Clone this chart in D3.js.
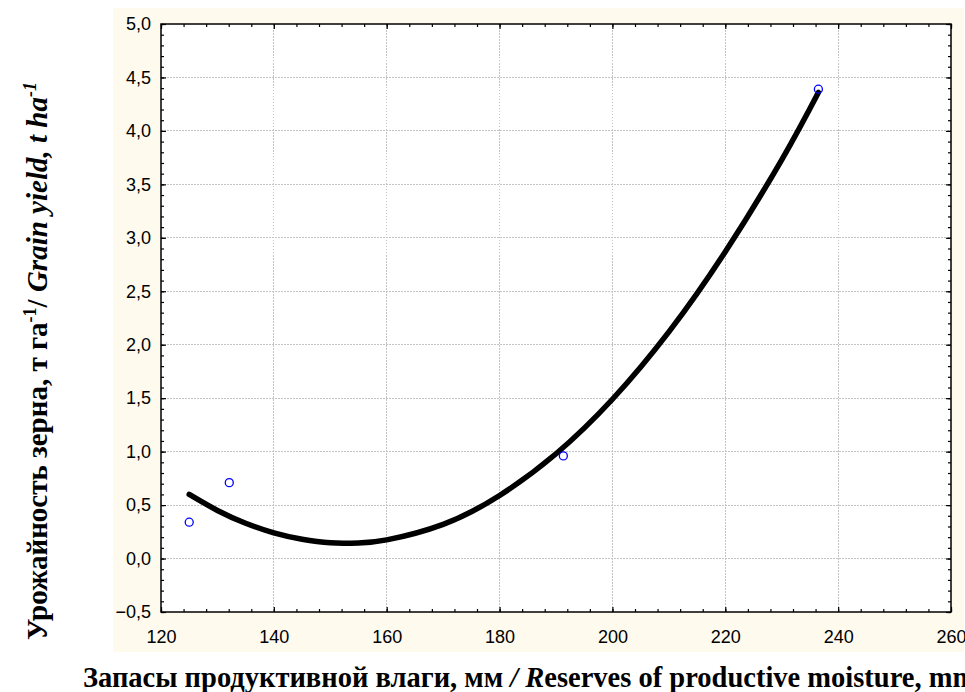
<!DOCTYPE html>
<html>
<head>
<meta charset="utf-8">
<script src="https://cdn.jsdelivr.net/npm/d3@7"></script>
<style>
  html, body { margin: 0; padding: 0; background: #ffffff; }
  svg { display: block; }
</style>
</head>
<body>
<svg id="chart" width="965" height="692"></svg>
<script>
// ---- data ----
const moisture = [125.0, 132.1, 191.3, 236.5];
const yieldObs = [0.34, 0.71, 0.96, 4.39];
// fitted curve
const fitX = [125, 130, 135, 140, 145, 150, 155, 160, 170, 180, 190, 200, 210, 220, 230, 236.5];
const fitY = [0.60, 0.45, 0.33, 0.24, 0.18, 0.147, 0.146, 0.175, 0.32, 0.59, 0.98, 1.49, 2.12, 2.87, 3.73, 4.36];
const xTicks = [120, 140, 160, 180, 200, 220, 240, 260];
const yTicks = [-0.5, 0.0, 0.5, 1.0, 1.5, 2.0, 2.5, 3.0, 3.5, 4.0, 4.5, 5.0];
const xMinor = d3.range(120, 260.01, 4);
const yMinor = d3.range(-5, 50.01, 1).map(v => v / 10);

const svg = d3.select("#chart");
const L = 161, T = 24, R = 951, B = 612;

svg.append("rect").attr("x", 113).attr("y", 8).attr("width", 851).attr("height", 644)
  .attr("fill", "#fefaee");
svg.append("rect").attr("x", L).attr("y", T).attr("width", R - L).attr("height", B - T)
  .attr("fill", "#ffffff");

const x = d3.scaleLinear().domain([120, 260]).range([L, R]);
const y = d3.scaleLinear().domain([-0.5, 5.0]).range([B, T]);
const fmt = v => d3.format(".1f")(v).replace(".", ",");

// grid
const grid = svg.append("g").attr("stroke", "#c4c4c4").attr("stroke-width", 1)
  .attr("stroke-dasharray", "1.5,1.5").attr("shape-rendering", "crispEdges");
grid.selectAll(".gx").data(xTicks.slice(1, -1)).enter().append("line")
  .attr("x1", d => x(d)).attr("x2", d => x(d)).attr("y1", T).attr("y2", B);
grid.selectAll(".gy").data(yTicks.slice(1, -1)).enter().append("line")
  .attr("x1", L).attr("x2", R).attr("y1", d => y(d)).attr("y2", d => y(d));

// axes
function styleAxis(g) {
  g.select(".domain").remove();
  g.selectAll("line").attr("stroke", "#000").attr("stroke-width", 1.2);
  g.selectAll("text").attr("font-family", "'Liberation Sans', Arial, sans-serif")
    .attr("font-size", 18).attr("fill", "#000");
}
svg.append("g").attr("transform", `translate(0,${B})`)
  .call(d3.axisBottom(x).tickValues(xTicks).tickSize(-5).tickPadding(18).tickFormat(d3.format("d")))
  .call(styleAxis);
svg.append("g").attr("transform", `translate(0,${B})`)
  .call(d3.axisBottom(x).tickValues(xMinor).tickSize(-3).tickFormat(""))
  .call(styleAxis);
svg.append("g").attr("transform", `translate(0,${T})`)
  .call(d3.axisTop(x).tickValues(xTicks).tickSize(-5).tickFormat(""))
  .call(styleAxis);
svg.append("g").attr("transform", `translate(0,${T})`)
  .call(d3.axisTop(x).tickValues(xMinor).tickSize(-3).tickFormat(""))
  .call(styleAxis);
svg.append("g").attr("transform", `translate(${L},0)`)
  .call(d3.axisLeft(y).tickValues(yTicks).tickSize(-5).tickPadding(10).tickFormat(fmt))
  .call(styleAxis);
svg.append("g").attr("transform", `translate(${L},0)`)
  .call(d3.axisLeft(y).tickValues(yMinor).tickSize(-3).tickFormat(""))
  .call(styleAxis);
svg.append("g").attr("transform", `translate(${R},0)`)
  .call(d3.axisRight(y).tickValues(yTicks).tickSize(-5).tickFormat(""))
  .call(styleAxis);
svg.append("g").attr("transform", `translate(${R},0)`)
  .call(d3.axisRight(y).tickValues(yMinor).tickSize(-3).tickFormat(""))
  .call(styleAxis);

// frame
svg.append("rect").attr("x", L).attr("y", T).attr("width", R - L).attr("height", B - T)
  .attr("fill", "none").attr("stroke", "#000").attr("stroke-width", 1.5);

// fitted curve
const fit = fitX.map((v, i) => [v, fitY[i]]);
svg.append("path").datum(fit)
  .attr("d", d3.line().x(d => x(d[0])).y(d => y(d[1])).curve(d3.curveNatural))
  .attr("fill", "none").attr("stroke", "#000").attr("stroke-width", 5.5)
  .attr("stroke-linecap", "round");

// observations
svg.selectAll(".pt").data(moisture.map((v, i) => [v, yieldObs[i]])).enter().append("circle")
  .attr("cx", d => x(d[0])).attr("cy", d => y(d[1])).attr("r", 4)
  .attr("fill", "none").attr("stroke", "#0000ff").attr("stroke-width", 1.3);

// axis titles
const serif = "'Liberation Serif', 'Times New Roman', serif";
const xt = svg.append("text").attr("x", 83).attr("y", 687)
  .attr("font-family", serif).attr("font-weight", "bold").attr("font-size", 28.5).attr("fill", "#000");
xt.append("tspan").text("Запасы продуктивной влаги, мм ");
xt.append("tspan").attr("font-style", "italic").text("/ R");
xt.append("tspan").text("eserves of productive moisture, mm");

const yt = svg.append("text").attr("transform", "translate(47,361) rotate(-90)")
  .attr("text-anchor", "middle")
  .attr("font-family", serif).attr("font-weight", "bold").attr("font-size", 29).attr("fill", "#000");
yt.append("tspan").text("Урожайность зерна, т га");
yt.append("tspan").attr("font-size", 18).attr("dy", -11).text("-1");
yt.append("tspan").attr("dy", 11).text("/ ");
yt.append("tspan").attr("font-style", "italic").text("Grain yield, t ha");
yt.append("tspan").attr("font-style", "italic").attr("font-size", 18).attr("dy", -11).text("-1");
</script>
</body>
</html>
